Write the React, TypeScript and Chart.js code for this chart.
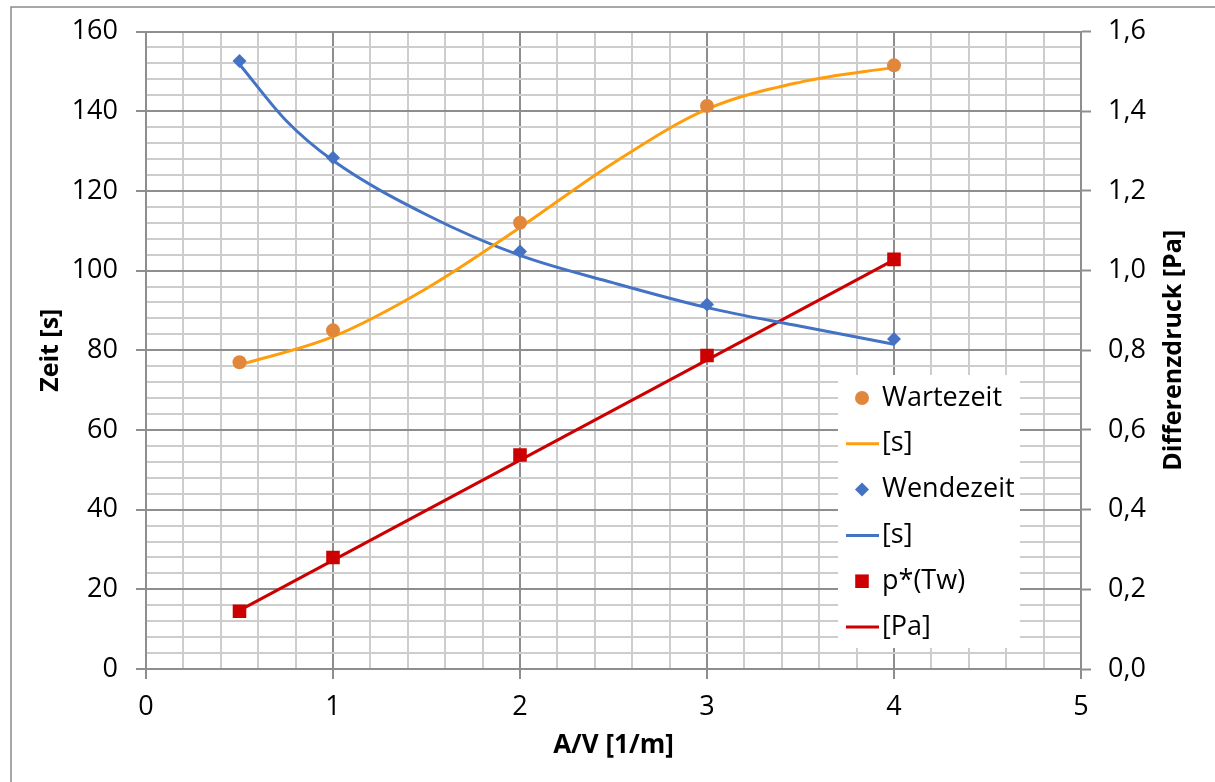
import React, { useEffect, useRef } from 'react';
import { Chart, registerables } from 'chart.js';

Chart.register(...registerables);

// Measured values
const avRatio = [0.5, 1, 2, 3, 4];
const wartezeit = [77, 85, 112, 141.3, 151.5];
const wendezeit = [152.6, 128.3, 104.8, 91.5, 82.8];
const druck = [0.145, 0.28, 0.537, 0.787, 1.028];

// Trend lines (values along each fitted curve)
const warteTrendX = [0.5, 1, 1.5, 2, 2.5, 3, 3.5, 4];
const warteTrendY = [76.3, 83.4, 95.5, 110.8, 127, 140.5, 147.3, 151];
const wendeTrendX = [0.5, 0.75, 1, 1.5, 2, 2.5, 3, 3.5, 4];
const wendeTrendY = [151.8, 137.6, 127.6, 114, 103.8, 96.9, 90.7, 86, 81.5];
const druckTrendX = [0.5, 4];
const druckTrendY = [0.147, 1.027];

// Axis settings
const xMin = 0, xMax = 5, xStep = 0.2, xMajor = 1;
const yMin = 0, yMax = 160, yStep = 4, yMajor = 20;
const y2Min = 0, y2Max = 1.6, y2Step = 0.2;

const FONT = '"Open Sans", "Noto Sans", sans-serif';
const TICK_SIZE = 27;
const MAJOR = '#8e8e8e';
const MINOR = '#cdcdcd';
const ORANGE_PT = '#e0873c';
const ORANGE_LN = '#ff9e0d';
const BLUE = '#4472c4';
const RED = '#cc0000';

const isMajor = (v: number, step: number) => Math.abs(v / step - Math.round(v / step)) < 1e-6;
const pts = (xs: number[], ys: number[]) => xs.map((x, i) => ({ x, y: ys[i] }));

function drawMarker(ctx: CanvasRenderingContext2D, style: string, x: number, y: number, r: number, color: string) {
  ctx.save();
  ctx.fillStyle = color;
  ctx.beginPath();
  if (style === 'circle') {
    ctx.arc(x, y, r, 0, Math.PI * 2);
  } else if (style === 'rectRot') {
    ctx.moveTo(x - r, y);
    ctx.lineTo(x, y - r);
    ctx.lineTo(x + r, y);
    ctx.lineTo(x, y + r);
    ctx.closePath();
  } else {
    const s = r * Math.SQRT1_2;
    ctx.rect(x - s, y - s, 2 * s, 2 * s);
  }
  ctx.fill();
  ctx.restore();
}

const decorations = {
  id: 'decorations',
  beforeDraw(chart: any) {
    const { ctx, width, height } = chart;
    ctx.save();
    ctx.fillStyle = '#ffffff';
    ctx.fillRect(0, 0, width, height);
    ctx.strokeStyle = '#8a8a8a';
    ctx.lineWidth = 1.5;
    ctx.beginPath();
    ctx.moveTo(11, height);
    ctx.lineTo(11, 7);
    ctx.lineTo(width, 7);
    ctx.stroke();
    ctx.restore();
  },
  afterDraw(chart: any) {
    const { ctx, chartArea } = chart;
    ctx.save();
    ctx.fillStyle = '#000';
    ctx.textAlign = 'center';
    ctx.textBaseline = 'middle';
    // axis titles
    ctx.font = `bold 26px ${FONT}`;
    ctx.fillText('A/V [1/m]', (chartArea.left + chartArea.right) / 2, 746);
    ctx.font = `bold 25px ${FONT}`;
    const midY = (chartArea.top + chartArea.bottom) / 2;
    ctx.save();
    ctx.translate(51, midY);
    ctx.rotate(-Math.PI / 2);
    ctx.fillText('Zeit [s]', 0, 0);
    ctx.restore();
    ctx.save();
    ctx.translate(1174, midY);
    ctx.rotate(-Math.PI / 2);
    ctx.fillText('Differenzdruck [Pa]', 0, 0);
    ctx.restore();

    // legend inside the plot
    ctx.fillStyle = '#ffffff';
    ctx.fillRect(838, 375, 182, 273);
    ctx.font = `${TICK_SIZE}px ${FONT}`;
    ctx.textAlign = 'left';
    chart.data.datasets.forEach((ds: any, i: number) => {
      const y = 398 + i * 45.8;
      if (ds.showLine) {
        ctx.strokeStyle = ds.borderColor;
        ctx.lineWidth = 3;
        ctx.beginPath();
        ctx.moveTo(846, y);
        ctx.lineTo(879, y);
        ctx.stroke();
      } else {
        drawMarker(ctx, ds.pointStyle, 862, y, ds.pointRadius, ds.backgroundColor);
      }
      ctx.fillStyle = '#000';
      ctx.fillText(ds.label, 882, y);
    });
    ctx.restore();
  },
};

export default function App() {
  const ref = useRef<HTMLCanvasElement | null>(null);

  useEffect(() => {
    document.body.style.margin = '0';
    if (!ref.current) return;
    const tickFont = { family: FONT, size: TICK_SIZE, lineHeight: 1 };
    const chart = new Chart(ref.current, {
      type: 'scatter',
      data: {
        datasets: [
          {
            label: 'Wartezeit', data: pts(avRatio, wartezeit), yAxisID: 'y',
            pointStyle: 'circle', pointRadius: 7, backgroundColor: ORANGE_PT, borderColor: ORANGE_PT,
            borderWidth: 0, showLine: false, order: 1,
          },
          {
            label: '[s]', data: pts(warteTrendX, warteTrendY), yAxisID: 'y',
            showLine: true, borderColor: ORANGE_LN, borderWidth: 3, pointRadius: 0,
            cubicInterpolationMode: 'monotone', order: 2,
          },
          {
            label: 'Wendezeit', data: pts(avRatio, wendezeit), yAxisID: 'y',
            pointStyle: 'rectRot', pointRadius: 7, backgroundColor: BLUE, borderColor: BLUE,
            borderWidth: 0, showLine: false, order: 1,
          },
          {
            label: '[s]', data: pts(wendeTrendX, wendeTrendY), yAxisID: 'y',
            showLine: true, borderColor: BLUE, borderWidth: 3, pointRadius: 0,
            cubicInterpolationMode: 'monotone', order: 2,
          },
          {
            label: 'p*(Tw)', data: pts(avRatio, druck), yAxisID: 'y2',
            pointStyle: 'rect', pointRadius: 9.6, backgroundColor: RED, borderColor: RED,
            borderWidth: 0, showLine: false, order: 1,
          },
          {
            label: '[Pa]', data: pts(druckTrendX, druckTrendY), yAxisID: 'y2',
            showLine: true, borderColor: RED, borderWidth: 3, pointRadius: 0, order: 2,
          },
        ] as any,
      },
      options: {
        responsive: false,
        animation: false,
        events: [],
        layout: { padding: { top: 30, left: 0, right: 0, bottom: 0 } },
        plugins: { legend: { display: false }, tooltip: { enabled: false } },
        scales: {
          x: {
            type: 'linear', min: xMin, max: xMax,
            afterFit: (s: any) => { s.height = 113; },
            ticks: {
              stepSize: xStep, autoSkip: false, maxRotation: 0, padding: 15, color: '#000',
              font: tickFont,
              callback: (v: any) => (isMajor(v, xMajor) ? String(Math.round(v)) : ''),
            },
            grid: {
              lineWidth: 2, tickLength: 10, tickWidth: 2,
              color: (c: any) => (c.tick && isMajor(c.tick.value, xMajor) ? MAJOR : MINOR),
              tickColor: (c: any) => (c.tick && isMajor(c.tick.value, xMajor) ? MAJOR : 'rgba(0,0,0,0)'),
            },
            border: { color: MAJOR, width: 2 },
          },
          y: {
            type: 'linear', position: 'left', min: yMin, max: yMax,
            afterFit: (s: any) => { s.width = 146; },
            ticks: {
              stepSize: yStep, autoSkip: false, padding: 18, color: '#000',
              font: tickFont,
              callback: (v: any) => (isMajor(v, yMajor) ? String(Math.round(v)) : ''),
            },
            grid: {
              lineWidth: 2, tickLength: 10, tickWidth: 2,
              color: (c: any) => (c.tick && isMajor(c.tick.value, yMajor) ? MAJOR : MINOR),
              tickColor: (c: any) => (c.tick && isMajor(c.tick.value, yMajor) ? MAJOR : 'rgba(0,0,0,0)'),
            },
            border: { color: MAJOR, width: 2 },
          },
          y2: {
            type: 'linear', position: 'right', min: y2Min, max: y2Max,
            afterFit: (s: any) => { s.width = 134; },
            ticks: {
              stepSize: y2Step, autoSkip: false, padding: 17, color: '#000',
              font: tickFont,
              callback: (v: any) => Number(v).toFixed(1).replace('.', ','),
            },
            grid: { drawOnChartArea: false, tickLength: 10, tickWidth: 2, tickColor: MAJOR },
            border: { color: MAJOR, width: 2 },
          },
        },
      } as any,
      plugins: [decorations],
    });
    return () => chart.destroy();
  }, []);

  return <canvas ref={ref} width={1215} height={782} style={{ display: 'block' }} />;
}
